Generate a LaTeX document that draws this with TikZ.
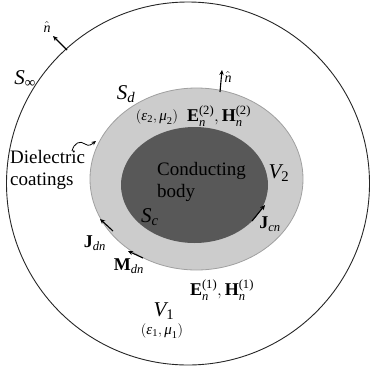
\documentclass[tikz,border=0pt]{standalone}
\usepackage{amsmath}
\usepackage{fontspec}
\setmainfont{Liberation Serif}
\usetikzlibrary{arrows.meta,shapes.geometric}
\definecolor{coatgray}{RGB}{204,204,204}
\definecolor{coatedge}{RGB}{160,160,160}
\definecolor{bodygray}{RGB}{88,88,88}
\newcommand{\vi}[1]{\textit{#1}}
\newcommand{\vb}[1]{\textbf{#1}}
\tikzset{
  lbl/.style={inner sep=0pt, font=\fontsize{18}{21}\selectfont},
  big/.style={inner sep=0pt, font=\fontsize{21}{24}\selectfont},
  mid/.style={inner sep=0pt, font=\fontsize{15}{18}\selectfont},
  small/.style={inner sep=0pt, font=\fontsize{14}{16}\selectfont},
  vec/.style={line width=1.1pt, -{Stealth[length=5pt,width=4.5pt]}},
}
\begin{document}
\begin{tikzpicture}[x=1pt,y=-1pt]
\useasboundingbox (0,0) rectangle (370,373);
% regions
\node[draw=black!85, line width=0.9pt, circle, minimum size=363pt, inner sep=0pt] (sinf) at (188,183.5) {};
\node[draw=coatedge, line width=0.8pt, fill=coatgray, ellipse, minimum width=213pt, minimum height=182pt, inner sep=0pt] (coat) at (196.5,179) {};
\node[fill=bodygray, ellipse, minimum width=147pt, minimum height=116pt, inner sep=0pt] (body) at (194.5,185) {};
% labels
\node[small] (n1) at (47,27) {$\hat{\vi{n}}$};
\node[big] (Sinf) at (25,79) {$\vi{S}_{\text{∞}}$};
\node[big] (Sd) at (126,94) {$\vi{S}_{\vi{d}}$};
\node[mid] (em2) at (157,117) {$(\vi{ε}_{\text{2}},\vi{μ}_{\text{2}})$};
\node[lbl] (EH2) at (219,116) {$\vb{E}_{\vi{n}}^{\text{(2)}},\vb{H}_{\vi{n}}^{\text{(2)}}$};
\node[small] (n2) at (228,77) {$\hat{\vi{n}}$};
\node[big] (V2) at (279,173) {$\vi{V}_{\text{2}}$};
\node[lbl, font=\fontsize{19}{22}\selectfont, align=left, anchor=north west] (cb) at (157,162) {Conducting\\body};
\node[big] (Sc) at (150,217) {$\vi{S}_{\vi{c}}$};
\node[lbl, font=\fontsize{19}{22}\selectfont, align=left, anchor=north west] (dc) at (10,150) {Dielectric\\coatings};
\node[lbl] (Jdn) at (95,243) {$\vb{J}_{\vi{dn}}$};
\node[lbl] (Mdn) at (129,266) {$\vb{M}_{\vi{dn}}$};
\node[lbl] (Jcn) at (270,224) {$\vb{J}_{\vi{cn}}$};
\node[lbl] (EH1) at (222,290) {$\vb{E}_{\vi{n}}^{\text{(1)}},\vb{H}_{\vi{n}}^{\text{(1)}}$};
\node[big] (V1) at (164,311) {$\vi{V}_{\text{1}}$};
\node[mid] (em1) at (162,331) {$(\vi{ε}_{\text{1}},\vi{μ}_{\text{1}})$};
% arrow anchor points
\coordinate (a1) at (67,50);   \coordinate (b1) at (53,36);
\coordinate (a2) at (220,92);  \coordinate (b2) at (222,70);
\coordinate (a3) at (113,231); \coordinate (b3) at (100,219);
\coordinate (a4) at (143,258); \coordinate (b4) at (128,251);
\coordinate (a5) at (252,221); \coordinate (b5) at (265,205);
\coordinate (c0) at (72,151);  \coordinate (c1) at (96,141);
\draw[vec] (a1) -- (b1);
\draw[vec] (a2) -- (b2);
\draw[vec] (a3) -- (b3);
\draw[vec] (a4) -- (b4);
\draw[vec] (a5) -- (b5);
\draw[line width=0.8pt, -{Stealth[length=4.5pt,width=4pt]}] (c0) .. controls (74,143) and (80,140) .. (85,144) .. controls (89,147) and (92,144) .. (c1);
\end{tikzpicture}
\end{document}
